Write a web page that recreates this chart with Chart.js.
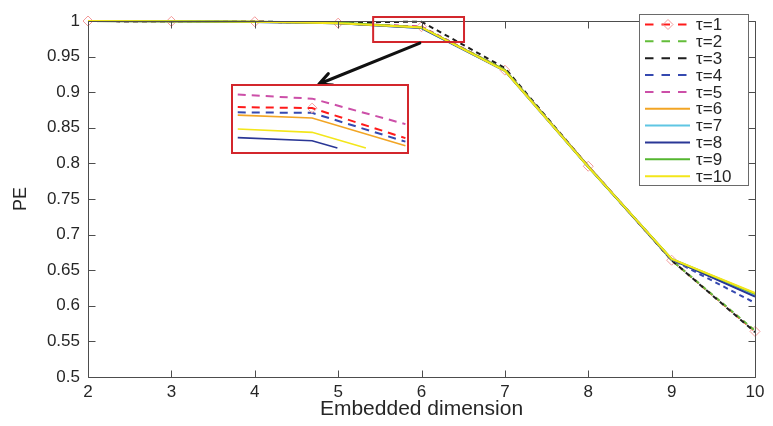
<!DOCTYPE html>
<html>
<head>
<meta charset="utf-8">
<script src="https://cdn.jsdelivr.net/npm/chart.js@4"></script>
<style>
  body { margin: 0; background: #fff; }
  canvas { display: block; }
  #wrap { position: relative; width: 773px; height: 426px; }
  #inset { position: absolute; left: 231px; top: 84px; width: 174px; height: 66px; border: 2px solid #d3262c; background: #fff; }
</style>
</head>
<body>
<div id="wrap">
  <canvas id="peChart" width="773" height="426"></canvas>
  <div id="inset"><canvas id="zoomChart" width="174" height="66"></canvas></div>
</div>
<script>
// embedded dimension m
const dims = [2, 3, 4, 5, 6, 7, 8, 9, 10];
const xTicks = [2, 3, 4, 5, 6, 7, 8, 9, 10];
const yTicks = [0.5, 0.55, 0.6, 0.65, 0.7, 0.75, 0.8, 0.85, 0.9, 0.95, 1];

// permutation entropy per delay tau
const tau1 = [1, 0.9995, 0.999, 0.997, 0.992, 0.931, 0.796, 0.664, 0.564];
const tau2 = [1, 0.9995, 0.999, 0.997, 0.991, 0.931, 0.796, 0.664, 0.565];
const tau3 = [1, 0.9995, 0.999, 0.998, 0.999, 0.934, 0.796, 0.664, 0.563];
const tau4 = [1, 0.9995, 0.999, 0.997, 0.991, 0.931, 0.796, 0.665, 0.604];
const tau5 = [1, 0.9995, 0.999, 0.997, 0.992, 0.931, 0.796, 0.665, 0.614];
const tau6 = [1, 0.9995, 0.999, 0.997, 0.991, 0.931, 0.796, 0.665, 0.615];
const tau7 = [1, 0.9995, 0.9985, 0.997, 0.990, 0.930, 0.795, 0.665, 0.614];
const tau8 = [1, 0.9995, 0.9985, 0.997, 0.990, 0.930, 0.795, 0.665, 0.613];
const tau9 = [1, 0.9995, 0.999, 0.998, 0.991, 0.931, 0.795, 0.666, 0.617];
const tau10 = [1, 0.9995, 0.999, 0.997, 0.991, 0.930, 0.795, 0.666, 0.618];

// magnified view around m = 6
const zoomX = [5.53, 6, 6.59];
const zoomXTau10 = [5.53, 6, 6.34];
const zoomXTau8 = [5.53, 6, 6.16];
const zoomTau5 = [0.9939, 0.9916, 0.9771];
const zoomTau1 = [0.9868, 0.9862, 0.9691];
const zoomTau4 = [0.9838, 0.9835, 0.9671];
const zoomTau6 = [0.9822, 0.9806, 0.9647];
const zoomTau10 = [0.9743, 0.9724, 0.9635];
const zoomTau8 = [0.9694, 0.9676, 0.9635];

const FONT = "'Liberation Sans', Arial, Helvetica, sans-serif";
Chart.defaults.font.family = FONT;
Chart.defaults.color = "#262626";

const RED = "#ff1a1a";
const GREEN = "#63bd3a";
const BLACK = "#1e1e1e";
const BLUE = "#3549b0";
const MAGENTA = "#cc4fa8";
const ORANGE = "#f2a524";
const CYAN = "#5fc6e3";
const NAVY = "#2a3796";
const GREEN2 = "#55b630";
const YELLOW = "#f3e61a";

const series = [
  { label: "τ=1", data: tau1, color: RED, dashed: true, marker: true },
  { label: "τ=2", data: tau2, color: GREEN, dashed: true },
  { label: "τ=3", data: tau3, color: BLACK, dashed: true },
  { label: "τ=4", data: tau4, color: BLUE, dashed: true },
  { label: "τ=5", data: tau5, color: MAGENTA, dashed: true },
  { label: "τ=6", data: tau6, color: ORANGE },
  { label: "τ=7", data: tau7, color: CYAN },
  { label: "τ=8", data: tau8, color: NAVY },
  { label: "τ=9", data: tau9, color: GREEN2 },
  { label: "τ=10", data: tau10, color: YELLOW }
];

function drawDiamond(ctx, cx, cy, r) {
  ctx.beginPath();
  ctx.moveTo(cx, cy - r);
  ctx.lineTo(cx + r, cy);
  ctx.lineTo(cx, cy + r);
  ctx.lineTo(cx - r, cy);
  ctx.closePath();
  ctx.stroke();
}

// box around the axes with inward ticks on all four sides
const axesBox = {
  id: "axesBox",
  afterDatasetsDraw(chart) {
    const { ctx, chartArea: a, scales: { x, y } } = chart;
    const len = 7;
    const L = Math.round(a.left) + 0.5, R = Math.round(a.right) + 0.5;
    const T = Math.round(a.top) + 0.5, B = Math.round(a.bottom) + 0.5;
    ctx.save();
    ctx.strokeStyle = "#4d4d4d";
    ctx.lineWidth = 1;
    ctx.beginPath();
    x.ticks.forEach(t => {
      const px = Math.round(x.getPixelForValue(t.value)) + 0.5;
      ctx.moveTo(px, B); ctx.lineTo(px, B - len);
      ctx.moveTo(px, T); ctx.lineTo(px, T + len);
    });
    y.ticks.forEach(t => {
      const py = Math.round(y.getPixelForValue(t.value)) + 0.5;
      ctx.moveTo(L, py); ctx.lineTo(L + len, py);
      ctx.moveTo(R, py); ctx.lineTo(R - len, py);
    });
    ctx.rect(L, T, R - L, B - T);
    ctx.stroke();
    ctx.restore();
  }
};

// red frame around the magnified region and the arrow pointing to the inset
const zoomMarks = {
  id: "zoomMarks",
  afterDatasetsDraw(chart) {
    const { ctx, scales: { x, y } } = chart;
    const l = x.getPixelForValue(5.42), r = x.getPixelForValue(6.51);
    const t = y.getPixelForValue(1.0056), b = y.getPixelForValue(0.9705);
    ctx.save();
    ctx.strokeStyle = "#d3262c";
    ctx.lineWidth = 2;
    ctx.strokeRect(l, t, r - l, b - t);

    const x0 = x.getPixelForValue(5.98), y0 = y.getPixelForValue(0.969);
    const x1 = x.getPixelForValue(4.77), y1 = y.getPixelForValue(0.9115);
    const ang = Math.atan2(y1 - y0, x1 - x0);
    const head = 14;
    ctx.strokeStyle = "#111";
    ctx.lineWidth = 3;
    ctx.lineCap = "round";
    ctx.lineJoin = "round";
    ctx.beginPath();
    ctx.moveTo(x0, y0);
    ctx.lineTo(x1, y1);
    ctx.moveTo(x1 - head * Math.cos(ang - 0.45), y1 - head * Math.sin(ang - 0.45));
    ctx.lineTo(x1, y1);
    ctx.lineTo(x1 - head * Math.cos(ang + 0.45), y1 - head * Math.sin(ang + 0.45));
    ctx.stroke();
    ctx.restore();
  }
};

// legend box in the top right corner of the axes
const legendBox = {
  id: "legendBox",
  afterDraw(chart) {
    const ctx = chart.ctx;
    const left = 639, top = 14, w = 109, h = 171, rowH = 16.85;
    ctx.save();
    ctx.fillStyle = "#fff";
    ctx.fillRect(left, top, w, h);
    ctx.strokeStyle = "#6a6a6a";
    ctx.lineWidth = 1;
    ctx.strokeRect(left + 0.5, top + 0.5, w, h);
    ctx.font = "17px " + FONT;
    ctx.textBaseline = "middle";
    chart.data.datasets.forEach((ds, i) => {
      const cy = top + 10.5 + i * rowH;
      ctx.strokeStyle = ds.borderColor;
      ctx.lineWidth = 2;
      ctx.setLineDash(ds.borderDash.length ? [8.5, 8] : []);
      ctx.beginPath();
      ctx.moveTo(left + 6, cy);
      ctx.lineTo(left + 51, cy);
      ctx.stroke();
      ctx.setLineDash([]);
      if (ds.pointRadius) {
        ctx.strokeStyle = ds.pointBorderColor;
        ctx.lineWidth = 1;
        drawDiamond(ctx, left + 29, cy, 5);
      }
      ctx.fillStyle = "#262626";
      ctx.fillText(ds.label, left + 57, cy + 1);
    });
    ctx.restore();
  }
};

new Chart(document.getElementById("peChart"), {
  type: "line",
  data: {
    labels: dims,
    datasets: series.map((s, i) => ({
      label: s.label,
      data: s.data.map((v, j) => ({ x: dims[j], y: v })),
      borderColor: s.color,
      backgroundColor: s.color,
      borderWidth: 2,
      borderDash: s.dashed ? [5, 4] : [],
      pointRadius: s.marker ? 5 : 0,
      pointStyle: "rectRot",
      pointBorderColor: "#f49a9a",
      pointBackgroundColor: "rgba(0,0,0,0)",
      pointBorderWidth: 1,
      tension: 0,
      fill: false,
      clip: false,
      order: series.length - i
    }))
  },
  options: {
    responsive: false,
    animation: false,
    devicePixelRatio: 1,
    events: [],
    layout: { padding: { top: 21, right: 18, left: 0, bottom: 0 } },
    plugins: {
      legend: { display: false },
      tooltip: { enabled: false }
    },
    scales: {
      x: {
        type: "linear",
        min: 2,
        max: 10,
        afterBuildTicks: scale => { scale.ticks = xTicks.map(v => ({ value: v })); },
        afterFit: scale => { scale.height = 49; },
        ticks: { font: { size: 17 }, padding: 5, maxRotation: 0, callback: v => String(v) },
        grid: { display: false, drawTicks: false },
        border: { display: false },
        title: {
          display: true,
          text: "Embedded dimension",
          font: { size: 21 },
          padding: { top: 0, bottom: 4 }
        }
      },
      y: {
        min: 0.5,
        max: 1,
        afterBuildTicks: scale => { scale.ticks = yTicks.map(v => ({ value: v })); },
        afterFit: scale => { scale.width = 88; },
        ticks: { font: { size: 17 }, padding: 8, callback: v => String(Math.round(v * 100) / 100) },
        grid: { display: false, drawTicks: false },
        border: { display: false },
        title: {
          display: true,
          text: "PE",
          font: { size: 18 },
          padding: { top: 10, bottom: 0 }
        }
      }
    }
  },
  plugins: [axesBox, zoomMarks, legendBox]
});

// inset: magnified curves near m = 6
const zoomSeries = [
  { xs: zoomX, ys: zoomTau5, color: MAGENTA, dashed: true },
  { xs: zoomX, ys: zoomTau1, color: RED, dashed: true, marker: true },
  { xs: zoomX, ys: zoomTau4, color: BLUE, dashed: true },
  { xs: zoomX, ys: zoomTau6, color: ORANGE },
  { xs: zoomXTau10, ys: zoomTau10, color: YELLOW },
  { xs: zoomXTau8, ys: zoomTau8, color: NAVY }
];

new Chart(document.getElementById("zoomChart"), {
  type: "line",
  data: {
    datasets: zoomSeries.map(s => ({
      data: s.ys.map((v, j) => ({ x: s.xs[j], y: v })),
      borderColor: s.color,
      borderWidth: s.dashed ? 2 : 1.6,
      borderDash: s.dashed ? [8, 6] : [],
      pointRadius: s.marker ? s.xs.map(v => (v === 6 ? 5 : 0)) : 0,
      pointStyle: "rectRot",
      pointBorderColor: "#f4a0a0",
      pointBackgroundColor: "rgba(0,0,0,0)",
      pointBorderWidth: 1,
      tension: 0,
      fill: false
    }))
  },
  options: {
    responsive: false,
    animation: false,
    devicePixelRatio: 1,
    events: [],
    layout: { padding: 0 },
    plugins: { legend: { display: false }, tooltip: { enabled: false } },
    scales: {
      x: { type: "linear", min: 5.5, max: 6.6, display: false },
      y: { min: 0.9612, max: 0.9988, display: false }
    }
  }
});
</script>
</body>
</html>
